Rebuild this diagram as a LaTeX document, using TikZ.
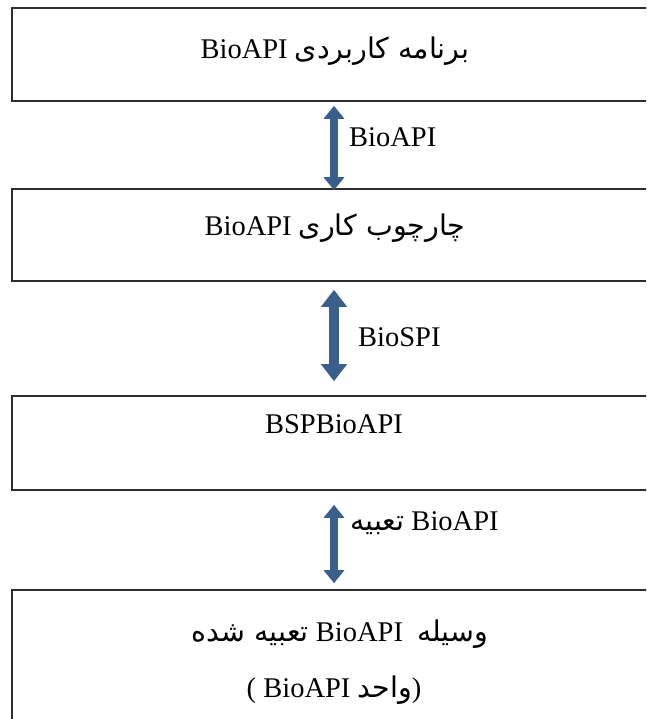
\documentclass[tikz,border=0pt]{standalone}
\usepackage{fontspec}
\setmainfont{Liberation Serif}
\newfontfamily\fa[Script=Arabic]{DejaVu Sans}
\TeXXeTstate=1
\usetikzlibrary{arrows.meta}
\definecolor{arrowblue}{RGB}{58,95,140}
\definecolor{boxline}{RGB}{45,45,45}
\begin{document}
\begin{tikzpicture}[x=1pt,y=-1pt,
  box/.style={draw=boxline, line width=1.6pt, minimum width=644pt, inner sep=0pt},
  txt/.style={anchor=base, inner sep=0pt, font=\fontsize{28.5}{34}\selectfont},
  lbl/.style={anchor=base west, inner sep=0pt, font=\fontsize{28.5}{34}\selectfont},
  barrow/.style={draw=arrowblue, line width=8pt, {Triangle[width=20pt,length=13pt]}-{Triangle[width=20pt,length=13pt]}},
  bigarrow/.style={draw=arrowblue, line width=10pt, {Triangle[width=25pt,length=17pt]}-{Triangle[width=25pt,length=17pt]}}]
\useasboundingbox (0,0) rectangle (646,719);
\clip (0,0) rectangle (646,719);
% boxes
\node[box, minimum height=93pt] (b1) at (334,54.5) {};
\node[box, minimum height=92pt] (b2) at (334,235) {};
\node[box, minimum height=94pt] (b3) at (334,443) {};
\node[box, minimum height=160pt] (b4) at (334,670) {};
% box texts
\node[txt] (t1) at (335,59) {\beginR{\fa برنامه کاربردی} \beginL BioAPI\endL\endR};
\node[txt] (t2) at (335,235) {\beginR{\fa چارچوب کاری} \beginL BioAPI\endL\endR};
\node[txt] (t3) at (334,433) {BSPBioAPI};
\node[txt] (t4) at (340,641) {\beginR{\fa وسیله}\ \ \beginL BioAPI\endL\ {\fa تعبیه شده}\endR};
\node[txt] (t5) at (334,697) {( BioAPI {\fa\beginR واحد\endR})};
% arrows
\draw[barrow, shorten <=4pt, shorten >=-2pt] (b1.south) -- (b2.north);
\draw[bigarrow, shorten <=8pt, shorten >=14pt] (b2.south) -- (b3.north);
\draw[barrow, shorten <=14pt, shorten >=6pt] (b3.south) -- (b4.north);
% labels
\node[lbl] (l1) at (349,147) {BioAPI};
\node[lbl] (l2) at (358,346) {BioSPI};
\node[lbl] (l3) at (350,530) {{\fa\beginR تعبیه\endR} BioAPI};
\end{tikzpicture}
\end{document}
